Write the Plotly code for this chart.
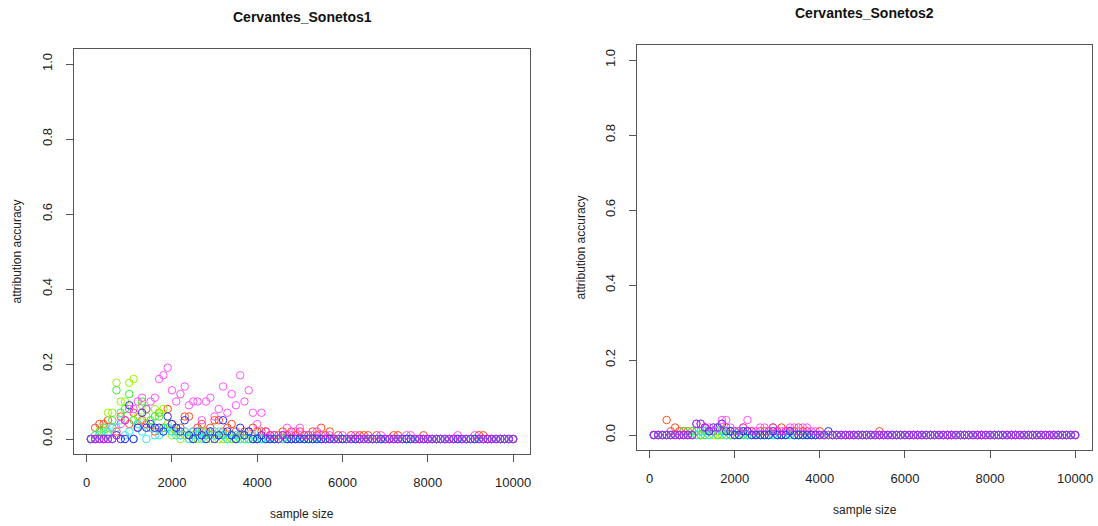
import plotly.graph_objects as go

# sample sizes (x values)
sample_size = [100, 200, 300, 400, 500, 600, 700, 800, 900, 1000,
               1100, 1200, 1300, 1400, 1500, 1600, 1700, 1800, 1900, 2000,
               2100, 2200, 2300, 2400, 2500, 2600, 2700, 2800, 2900, 3000,
               3100, 3200, 3300, 3400, 3500, 3600, 3700, 3800, 3900, 4000,
               4100, 4200, 4300, 4400, 4500, 4600, 4700, 4800, 4900, 5000,
               5100, 5200, 5300, 5400, 5500, 5600, 5700, 5800, 5900, 6000,
               6100, 6200, 6300, 6400, 6500, 6600, 6700, 6800, 6900, 7000,
               7100, 7200, 7300, 7400, 7500, 7600, 7700, 7800, 7900, 8000,
               8100, 8200, 8300, 8400, 8500, 8600, 8700, 8800, 8900, 9000,
               9100, 9200, 9300, 9400, 9500, 9600, 9700, 9800, 9900, 10000]

# accuracy values in percent (hundredths), 100 values per series
# ---- Cervantes_Sonetos1
s1_red = [0, 3, 4, 4, 5, 3, 2, 6, 5, 4,
          7, 3, 5, 4, 3, 2, 7, 3, 8, 4,
          2, 3, 6, 6, 2, 3, 4, 2, 3, 5,
          5, 2, 3, 4, 2, 1, 2, 2, 3, 2,
          2, 2, 1, 1, 1, 2, 1, 2, 1, 2,
          1, 1, 2, 1, 3, 1, 2, 0, 1, 0,
          0, 1, 0, 1, 1, 1, 0, 1, 0, 0,
          0, 1, 1, 0, 0, 0, 0, 0, 1, 0,
          0, 0, 0, 0, 0, 0, 0, 0, 0, 0,
          0, 1, 1, 0, 0, 0, 0, 0, 0, 0]
s1_ygreen = [0, 0, 1, 2, 7, 7, 15, 10, 10, 15,
             16, 6, 9, 6, 3, 8, 7, 8, 4, 1,
             2, 0, 1, 0, 1, 0, 1, 0, 0, 1,
             0, 0, 1, 0, 0, 0, 1, 0, 0, 0,
             0, 0, 0, 0, 0, 0, 0, 0, 0, 0,
             0, 0, 0, 0, 0, 0, 0, 0, 0, 0,
             0, 0, 0, 0, 0, 0, 0, 0, 0, 0,
             0, 0, 0, 0, 0, 0, 0, 0, 0, 0,
             0, 0, 0, 0, 0, 0, 0, 0, 0, 0,
             0, 0, 0, 0, 0, 0, 0, 0, 0, 0]
s1_green = [0, 1, 2, 3, 1, 5, 13, 7, 8, 12,
            5, 4, 10, 8, 5, 6, 6, 3, 3, 2,
            3, 1, 2, 1, 0, 1, 2, 1, 1, 2,
            1, 1, 0, 1, 0, 1, 0, 0, 0, 0,
            0, 0, 0, 0, 0, 0, 0, 0, 0, 0,
            0, 0, 0, 0, 0, 0, 0, 0, 0, 0,
            0, 0, 0, 0, 0, 0, 0, 0, 0, 0,
            0, 0, 0, 0, 0, 0, 0, 0, 0, 0,
            0, 0, 0, 0, 0, 0, 0, 0, 0, 0,
            0, 0, 0, 0, 0, 0, 0, 0, 0, 0]
s1_cyan = [0, 0, 1, 0, 2, 3, 3, 5, 1, 2,
           0, 4, 2, 0, 3, 1, 1, 2, 3, 2,
           1, 1, 2, 0, 2, 1, 0, 1, 2, 1,
           2, 1, 0, 1, 1, 0, 1, 0, 1, 0,
           0, 0, 0, 0, 0, 0, 0, 0, 0, 0,
           0, 0, 0, 0, 0, 0, 0, 0, 0, 0,
           0, 0, 0, 0, 0, 0, 0, 0, 0, 0,
           0, 0, 0, 0, 0, 0, 0, 0, 0, 0,
           0, 0, 0, 0, 0, 0, 0, 0, 0, 0,
           0, 0, 0, 0, 0, 0, 0, 0, 0, 0]
s1_blue = [0, 0, 0, 0, 0, 0, 1, 0, 0, 9,
           0, 3, 7, 3, 4, 3, 3, 2, 6, 4,
           3, 2, 5, 1, 0, 2, 1, 0, 2, 0,
           1, 5, 2, 1, 0, 3, 1, 2, 0, 0,
           1, 0, 0, 0, 0, 1, 0, 0, 0, 0,
           0, 0, 0, 0, 0, 0, 0, 0, 0, 0,
           0, 0, 0, 0, 0, 0, 0, 0, 0, 0,
           0, 0, 0, 0, 0, 0, 0, 0, 0, 0,
           0, 0, 0, 0, 0, 0, 0, 0, 0, 0,
           0, 0, 0, 0, 0, 0, 0, 0, 0, 0]
s1_magenta = [0, 0, 0, 0, 0, 0, 1, 4, 5, 8,
              8, 10, 11, 8, 10, 11, 16, 17, 19, 13,
              10, 12, 14, 9, 10, 10, 5, 10, 11, 6,
              8, 14, 7, 12, 9, 17, 10, 13, 7, 4,
              7, 2, 1, 1, 0, 1, 3, 1, 2, 3,
              1, 1, 1, 2, 1, 0, 1, 0, 0, 1,
              0, 0, 1, 0, 0, 0, 0, 0, 1, 0,
              0, 0, 0, 0, 1, 1, 0, 0, 0, 0,
              0, 0, 0, 0, 0, 0, 1, 0, 0, 0,
              1, 0, 0, 0, 0, 0, 0, 0, 0, 0]

# ---- Cervantes_Sonetos2
s2_red = [0, 0, 0, 4, 1, 2, 1, 1, 1, 0,
          1, 1, 2, 1, 1, 2, 1, 2, 1, 1,
          1, 2, 1, 1, 0, 1, 1, 1, 2, 1,
          2, 1, 1, 1, 2, 1, 1, 0, 0, 1,
          0, 0, 0, 0, 0, 0, 0, 0, 0, 0,
          0, 0, 0, 1, 0, 0, 0, 0, 0, 0,
          0, 0, 0, 0, 0, 0, 0, 0, 0, 0,
          0, 0, 0, 0, 0, 0, 0, 0, 0, 0,
          0, 0, 0, 0, 0, 0, 0, 0, 0, 0,
          0, 0, 0, 0, 0, 0, 0, 0, 0, 0]
s2_ygreen = [0, 0, 0, 0, 0, 0, 0, 0, 0, 1,
             0, 0, 1, 0, 0, 1, 0, 0, 0, 0,
             0, 0, 0, 0, 0, 0, 0, 0, 0, 0,
             0, 0, 0, 0, 0, 0, 0, 0, 0, 0,
             0, 0, 0, 0, 0, 0, 0, 0, 0, 0,
             0, 0, 0, 0, 0, 0, 0, 0, 0, 0,
             0, 0, 0, 0, 0, 0, 0, 0, 0, 0,
             0, 0, 0, 0, 0, 0, 0, 0, 0, 0,
             0, 0, 0, 0, 0, 0, 0, 0, 0, 0,
             0, 0, 0, 0, 0, 0, 0, 0, 0, 0]
s2_green = [0, 0, 0, 0, 0, 0, 0, 1, 0, 1,
            1, 0, 0, 1, 1, 0, 1, 0, 0, 1,
            0, 0, 0, 0, 0, 0, 0, 0, 0, 0,
            0, 0, 0, 0, 0, 0, 0, 0, 0, 0,
            0, 0, 0, 0, 0, 0, 0, 0, 0, 0,
            0, 0, 0, 0, 0, 0, 0, 0, 0, 0,
            0, 0, 0, 0, 0, 0, 0, 0, 0, 0,
            0, 0, 0, 0, 0, 0, 0, 0, 0, 0,
            0, 0, 0, 0, 0, 0, 0, 0, 0, 0,
            0, 0, 0, 0, 0, 0, 0, 0, 0, 0]
s2_cyan = [0, 0, 0, 0, 0, 0, 0, 0, 0, 0,
           0, 1, 1, 0, 1, 2, 1, 0, 1, 0,
           1, 1, 0, 0, 0, 0, 0, 0, 0, 0,
           0, 0, 0, 0, 0, 0, 0, 0, 0, 0,
           0, 0, 0, 0, 0, 0, 0, 0, 0, 0,
           0, 0, 0, 0, 0, 0, 0, 0, 0, 0,
           0, 0, 0, 0, 0, 0, 0, 0, 0, 0,
           0, 0, 0, 0, 0, 0, 0, 0, 0, 0,
           0, 0, 0, 0, 0, 0, 0, 0, 0, 0,
           0, 0, 0, 0, 0, 0, 0, 0, 0, 0]
s2_blue = [0, 0, 0, 0, 0, 0, 0, 0, 0, 0,
           3, 3, 2, 1, 2, 2, 3, 1, 1, 0,
           0, 1, 1, 0, 0, 0, 0, 0, 1, 0,
           0, 0, 1, 0, 0, 0, 0, 0, 0, 0,
           0, 1, 0, 0, 0, 0, 0, 0, 0, 0,
           0, 0, 0, 0, 0, 0, 0, 0, 0, 0,
           0, 0, 0, 0, 0, 0, 0, 0, 0, 0,
           0, 0, 0, 0, 0, 0, 0, 0, 0, 0,
           0, 0, 0, 0, 0, 0, 0, 0, 0, 0,
           0, 0, 0, 0, 0, 0, 0, 0, 0, 0]
s2_magenta = [0, 0, 0, 0, 0, 0, 0, 0, 0, 0,
              3, 3, 2, 2, 1, 2, 4, 4, 2, 1,
              1, 2, 4, 1, 1, 2, 2, 1, 2, 1,
              1, 1, 2, 2, 1, 2, 2, 1, 1, 0,
              0, 0, 0, 0, 0, 0, 0, 0, 0, 0,
              0, 0, 0, 0, 0, 0, 0, 0, 0, 0,
              0, 0, 0, 0, 0, 0, 0, 0, 0, 0,
              0, 0, 0, 0, 0, 0, 0, 0, 0, 0,
              0, 0, 0, 0, 0, 0, 0, 0, 0, 0,
              0, 0, 0, 0, 0, 0, 0, 0, 0, 0]

titles = ["Cervantes_Sonetos1", "Cervantes_Sonetos2"]
x_ticks = [0, 2000, 4000, 6000, 8000, 10000]
y_ticks = [0.0, 0.2, 0.4, 0.6, 0.8, 1.0]

series_colors = ["#FF4A1C", "#99F500", "#33EE33", "#30E8F0", "#2A2AFF", "#FF1AFF"]
series_opacity = [1, 1, 1, 1, 1, 0.75]

panels = [
    [s1_red, s1_ygreen, s1_green, s1_cyan, s1_blue, s1_magenta],
    [s2_red, s2_ygreen, s2_green, s2_cyan, s2_blue, s2_magenta],
]

W, H = 1098, 526
# plot boxes in pixels: (left, right, top, bottom)
boxes = [(74, 530, 49, 454), (637, 1092, 45, 450)]

fig = go.Figure()
font_family = "Liberation Sans, Arial, sans-serif"

for p, series in enumerate(panels):
    xa = "x" if p == 0 else "x2"
    ya = "y" if p == 0 else "y2"
    for s, vals in enumerate(series):
        fig.add_trace(go.Scatter(
            x=sample_size, y=[v / 100 for v in vals],
            mode="markers", xaxis=xa, yaxis=ya, showlegend=False,
            opacity=series_opacity[s],
            marker=dict(symbol="circle-open", size=7.5, color=series_colors[s],
                        line=dict(width=1.0, color=series_colors[s])),
        ))

axis_common = dict(showgrid=False, zeroline=False, showline=True, mirror=True,
                   linecolor="#555555", linewidth=1, ticks="outside", ticklen=7,
                   tickcolor="#555555", tickwidth=1, ticklabelstandoff=9,
                   tickfont=dict(family=font_family, size=13, color="#222222"))

layout = dict(width=W, height=H, margin=dict(l=0, r=0, t=0, b=0),
              plot_bgcolor="white", paper_bgcolor="white", showlegend=False)

annotations = []
for p in range(2):
    l, r, t, b = boxes[p]
    xd = [l / W, r / W]
    yd = [1 - b / H, 1 - t / H]
    xkey = "xaxis" if p == 0 else "xaxis2"
    ykey = "yaxis" if p == 0 else "yaxis2"
    layout[xkey] = dict(domain=xd, range=[-296, 10396], tickvals=x_ticks,
                        ticktext=[str(v) for v in x_ticks],
                        anchor="y" if p == 0 else "y2", **axis_common)
    layout[ykey] = dict(domain=yd, range=[-0.04, 1.04], tickvals=y_ticks,
                        ticktext=["%.1f" % v for v in y_ticks], tickangle=-90,
                        anchor="x" if p == 0 else "x2", **axis_common)
    cx = (l + r) / 2 / W
    common = dict(xref="paper", yref="paper", showarrow=False,
                  xanchor="center", yanchor="middle")
    annotations.append(dict(text="<b>%s</b>" % titles[p], x=cx, y=1 - (t - 32) / H,
                            font=dict(family=font_family, size=14, color="#111111"),
                            **common))
    annotations.append(dict(text="sample size", x=cx, y=1 - (b + 60) / H,
                            font=dict(family=font_family, size=12, color="#222222"),
                            **common))
    annotations.append(dict(text="attribution accuracy", x=(l - 57) / W,
                            y=1 - (t + b) / 2 / H, textangle=-90,
                            font=dict(family=font_family, size=12, color="#222222"),
                            **common))

layout["annotations"] = annotations
fig.update_layout(**layout)
fig.write_html("out.html", config={"displayModeBar": False},
               post_script="document.body.style.margin='0';document.body.style.overflow='hidden';")
